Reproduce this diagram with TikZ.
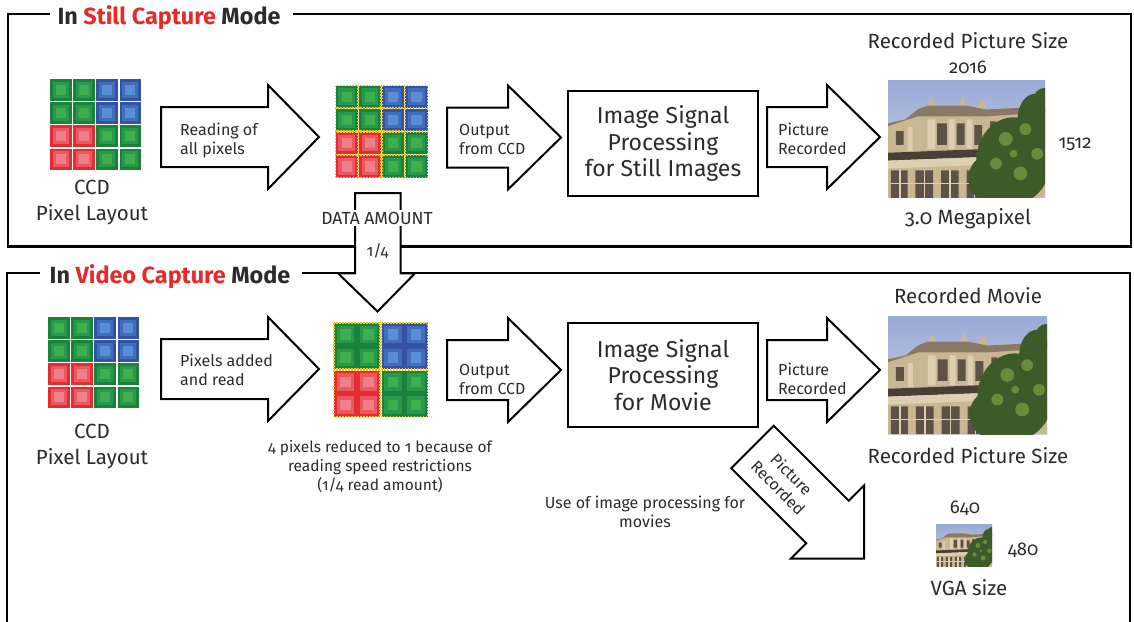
\documentclass[tikz,border=0pt]{standalone}
\usepackage{fontspec}
\setmainfont{Fira Sans}[Numbers=OldStyle]
\definecolor{txt}{HTML}{2B2B2B}
\definecolor{tred}{HTML}{E52A2A}
\definecolor{ga}{HTML}{1C8239}
\definecolor{gb}{HTML}{28994A}
\definecolor{gc}{HTML}{3DAF4F}
\definecolor{ba}{HTML}{3353A3}
\definecolor{bb}{HTML}{426DBA}
\definecolor{bc}{HTML}{5A8ED4}
\definecolor{ra}{HTML}{E42D32}
\definecolor{rb}{HTML}{EB5960}
\definecolor{rc}{HTML}{EF8089}
\definecolor{yel}{HTML}{F5C518}
\definecolor{skyA}{HTML}{98AAD6}
\definecolor{skyB}{HTML}{D2D6E4}
\definecolor{bldg}{HTML}{C9B793}
\definecolor{bldgL}{HTML}{DDD0B2}
\definecolor{roof}{HTML}{8A7A64}
\definecolor{win}{HTML}{5C5246}
\definecolor{corn}{HTML}{4A3F35}
\definecolor{treeA}{HTML}{3C5B28}
\definecolor{treeB}{HTML}{6C8A3C}
\newcommand\pxcell[4]{%
  \fill[fill=#4a] ({#1},{#2}) rectangle ++({#3},{#3});
  \fill[fill=#4b] ({#1+0.13*(#3)},{#2+0.13*(#3)}) rectangle ++({0.74*(#3)},{0.74*(#3)});
  \fill[fill=#4c] ({#1+0.27*(#3)},{#2+0.27*(#3)}) rectangle ++({0.46*(#3)},{0.46*(#3)});
}
\newcommand\ccdgrid[5]{%
  \foreach \i/\j/\k in {0/0/g,1/0/g,2/0/b,3/0/b,0/1/g,1/1/g,2/1/b,3/1/b,0/2/r,1/2/r,2/2/g,3/2/g,0/3/r,1/3/r,2/3/g,3/3/g}{%
    \pxcell{#1+\i*#3}{#2+\j*#3}{#4}{\k}
    \ifnum#5=1 \draw[ydot] ({#1+\i*#3},{#2+\j*#3}) rectangle ++({#4},{#4});\fi
  }}
\tikzset{
  ydot/.style={draw=yel, line width=1.5pt, dash pattern=on 1.6pt off 1.4pt},
  frameline/.style={line width=2.4pt},
  arrowline/.style={draw=black, fill=white, line width=2pt, line join=miter},
  procbox/.style={draw=black, line width=2.2pt, minimum width=190pt, minimum height=105pt, align=center, font=\fontsize{23}{26.5}\selectfont},
  small/.style={font=\fontsize{16}{19}\selectfont, align=left},
  capt/.style={font=\fontsize{15.5}{19.3}\selectfont, align=center},
  mid/.style={font=\fontsize{20.5}{26}\selectfont, align=center},
  num/.style={font=\fontsize{18.5}{22}\selectfont},
  ttl/.style={font=\bfseries\fontsize{23.4}{27}\selectfont},
  pics/fatarrow/.style 2 args={code={
    \draw[arrowline] (0,-30) -- (#1,-30) -- (#1,-52) -- (#2,0) -- (#1,52) -- (#1,30) -- (0,30) -- cycle;}},
  pics/photo/.style={code={
    \begin{scope}
    \clip (0,0) rectangle (160,120);
    \shade[top color=skyA, bottom color=skyB] (0,0) rectangle (160,120);
    \fill[bldg] (0,44) -- (18,40) -- (30,30) -- (40,26) -- (44,18) -- (48,26) -- (72,26) -- (76,17) -- (80,26) -- (92,28) -- (93,21) -- (99,21) -- (100,30) -- (160,26) -- (160,120) -- (0,120) -- cycle;
    \fill[roof] (18,40) -- (30,30) -- (40,26) -- (80,26) -- (100,30) -- (160,27) -- (160,33) -- (100,37) -- (30,37) -- (0,47) -- (0,44) -- cycle;
    \fill[bldgL] (40,40) rectangle (48,70) (62,40) rectangle (68,70) (80,40) rectangle (86,70) (20,48) rectangle (25,72);
    \fill[win] (50,44) rectangle (60,66) (70,44) rectangle (78,66) (8,52) rectangle (16,66) (88,46) rectangle (96,66) (104,42) rectangle (110,62);
    \fill[corn] (0,74) -- (104,70) -- (104,78) -- (0,82) -- cycle;
    \fill[bldgL] (0,82) -- (104,78) -- (104,86) -- (0,90) -- cycle;
    \fill[win] (3,92) rectangle (20,120) (28,92) rectangle (46,120) (54,92) rectangle (72,120) (80,92) rectangle (95,120);
    \draw[bldgL, line width=1.5pt] (3,105) -- (95,105) (12,92) -- (12,120) (37,92) -- (37,120) (63,92) -- (63,120) (88,92) -- (88,120);
    \fill[treeA] (128,82) ellipse (38 and 44) (150,40) ellipse (18 and 26) (104,100) ellipse (22 and 24) (160,20) circle (12);
    \fill[treeB] (120,60) circle (7) (140,50) circle (6) (110,85) circle (6) (135,95) circle (7) (152,75) circle (6) (128,75) circle (4);
    \end{scope}}}
}
\begin{document}
\begin{tikzpicture}[x=1pt,y=-1pt, every node/.style={inner sep=0pt, text=txt}]
\useasboundingbox (0,0) rectangle (1134,621);
% ---------- frames ----------
\node[ttl, anchor=base] (title1) at (169,24) {In \textcolor{tred}{Still Capture} Mode};
\node[ttl, anchor=base] (title2) at (170,283) {In \textcolor{tred}{Video Capture} Mode};
\draw[frameline] (50,14) -- (8,14) -- (8,246.5) -- (1131,246.5) -- (1131,14) -- (293,14);
\draw[frameline] (40,273) -- (7,273) -- (7,622);
\draw[frameline] (302,273) -- (1130,273) -- (1130,622);
% ---------- still capture ----------
\ccdgrid{50}{79}{23.2}{21.5}{0}
\node[mid] (ccd1) at (92,202.5) {CCD\\Pixel Layout};
\pic at (161,137) {fatarrow={107}{158}};
\node[small, anchor=west] (read1) at (180,140.5) {Reading of\\all pixels};
\ccdgrid{335.5}{85.5}{23.2}{22.5}{1}
\pic at (447,137.5) {fatarrow={61}{114}};
\node[small, anchor=west] (out1) at (459,139) {Output\\from CCD};
\node[procbox] (isp1) at (663,143.5) {Image Signal\\Processing\\for Still Images};
\pic at (767,137) {fatarrow={60}{113}};
\node[small, anchor=west] (rec1) at (778,139) {Picture\\Recorded};
\node[mid, anchor=base] (size1) at (968,48) {Recorded Picture Size};
\node[num, anchor=base] (w1) at (968,73) {2016};
\pic[xscale=0.98125, yscale=0.9833] at (888,80) {photo};
\node[num, anchor=base] (h1) at (1075,148) {1512};
\node[mid, anchor=base] (mp1) at (968,224) {3.0 Megapixel};
% ---------- data amount arrow ----------
\draw[arrowline] (355,193) -- (400.5,193) -- (400.5,273.3) -- (415,273.3) -- (377.5,311.5) -- (338,273.3) -- (355,273.3) -- cycle;
\node[small, font=\fontsize{17.5}{20}\selectfont, anchor=base, fill=white, inner xsep=1pt, inner ysep=2pt] (data) at (377,224) {DATA AMOUNT};
\node[small, anchor=base] (quarter) at (377.5,256) {1/4};
% ---------- video capture ----------
\ccdgrid{48}{317}{23.2}{21.5}{0}
\node[mid] (ccd2) at (92,446.5) {CCD\\Pixel Layout};
\pic at (161,369) {fatarrow={107}{158}};
\node[small, anchor=west] (read2) at (180,369.6) {Pixels added\\and read};
\foreach \i/\j/\k in {0/0/g,1/0/b,0/1/r,1/1/g}{
  \foreach \u in {0,1}{\foreach \v in {0,1}{
    \pxcell{334+\i*47.5+\u*23}{323+\j*47.5+\v*23}{23}{\k}
  }}
  \draw[ydot] ({334+\i*47.5},{323+\j*47.5}) rectangle ++(46,46);
}
\node[capt] (reduce) at (380,466.7) {4 pixels reduced to 1 because of\\reading speed restrictions\\(1/4 read amount)};
\pic at (447,370) {fatarrow={61}{114}};
\node[small, anchor=west] (out2) at (459,379) {Output\\from CCD};
\node[procbox, minimum height=104pt] (isp2) at (663,375) {Image Signal\\Processing\\for Movie};
\pic at (767,370) {fatarrow={60}{113}};
\node[small, anchor=west] (rec2) at (778,379) {Picture\\Recorded};
\node[mid, anchor=base] (movie) at (968,303) {Recorded Movie};
\pic[xscale=0.99375, yscale=0.9833] at (888,316) {photo};
\node[mid, anchor=base] (size2) at (968,463) {Recorded Picture Size};
\pic[rotate=-45] at (752.5,447) {fatarrow={106}{158}};
\node[small, align=center, rotate=-45] (rec3) at (785,481) {Picture\\Recorded};
\node[small, align=center] (use) at (645,512) {Use of image processing for\\movies};
\node[num, anchor=base] (w2) at (965,513) {640};
\pic[xscale=0.35, yscale=0.358] at (936,524) {photo};
\node[num, anchor=base] (h2) at (1023,555) {480};
\node[mid, anchor=base] (vga) at (969,595) {VGA size};
\end{tikzpicture}
\end{document}
